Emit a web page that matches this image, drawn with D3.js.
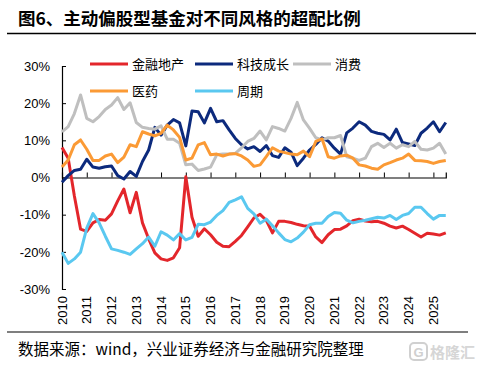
<!DOCTYPE html>
<html>
<head>
<meta charset="utf-8">
<script src="https://cdn.jsdelivr.net/npm/d3@7"></script>
<style>
  body { margin: 0; background: #fff; }
  text { font-family: "Liberation Sans", "Noto Sans CJK SC", sans-serif; }
</style>
</head>
<body>
<div id="chart"></div>
<script>
// quarterly, 2010Q1 .. 2025Q3 (%)
var years = ["2010","2011","2012","2013","2014","2015","2016","2017","2018","2019","2020","2021","2022","2023","2024","2025"];
var seriesNames = ["金融地产", "科技成长", "消费", "医药", "周期"];

var finance = [8.1, 5.2, -5.0, -13.9, -14.5, -12.2, -11.3, -11.5, -9.8, -6.3, -3.1, -9.5, -4.0, -12.2, -16.5, -20.3,
  -21.9, -22.3, -21.6, -18.9, 0.2, -10.7, -15.8, -13.8, -15.4, -17.4, -18.5, -18.6, -17.2, -15.6, -13.3, -10.9,
  -9.9, -11.5, -14.9, -11.8, -11.8, -12.1, -12.6, -13.0, -13.1, -16.0, -17.5, -15.4, -14.0, -13.9, -13.0, -11.6,
  -11.2, -11.7, -11.9, -11.8, -12.3, -13.1, -13.6, -13.1, -14.0, -15.0, -16.0, -15.0, -15.2, -15.5, -14.9];
var tech = [-1.3, 0.5, 1.9, 2.2, 4.9, 2.8, 2.5, 2.9, 3.1, 0.5, -0.4, 1.6, 0.3, 4.3, 7.4, 13.5,
  11.4, 14.1, 15.6, 14.7, 8.5, 17.9, 17.7, 14.7, 18.6, 15.0, 15.3, 12.8, 10.5, 8.8, 7.7, 8.3,
  7.0, 8.6, 5.9, 5.4, 8.0, 6.8, 3.2, 5.2, 7.4, 8.9, 10.7, 9.8, 7.9, 6.3, 12.0, 13.3,
  15.0, 14.1, 12.4, 11.9, 11.6, 10.1, 13.0, 9.4, 9.0, 8.6, 11.9, 13.3, 15.0, 12.3, 14.8];
var consumer = [12.3, 13.7, 17.2, 22.2, 15.9, 15.0, 16.4, 18.3, 19.5, 21.5, 18.3, 20.1, 14.8, 13.5, 13.2, 13.0,
  13.9, 10.3, 10.3, 9.2, 3.4, 3.6, 1.9, 2.3, 2.8, 6.1, 6.3, 6.3, 6.5, 8.0, 9.7, 10.5,
  12.5, 10.1, 13.7, 13.2, 12.5, 15.9, 20.2, 15.5, 13.2, 10.7, 10.1, 10.7, 10.7, 11.3, 5.6, 5.2,
  4.6, 5.2, 8.3, 9.2, 8.1, 9.2, 7.9, 8.8, 8.3, 9.7, 7.6, 7.4, 7.9, 9.2, 6.3];
var pharma = [2.8, 4.7, 8.8, 10.1, 7.6, 4.6, 4.6, 5.8, 6.3, 4.0, 5.5, 8.8, 8.3, 12.3, 11.7, 11.2,
  11.9, 14.1, 12.8, 10.8, 4.7, 5.2, 8.8, 9.4, 6.1, 6.3, 5.8, 6.3, 6.4, 5.8, 4.7, 3.0,
  3.4, 5.6, 8.0, 7.1, 6.7, 6.3, 6.1, 7.1, 5.6, 9.7, 10.4, 5.6, 5.2, 5.8, 6.0, 5.2,
  3.4, 3.1, 2.5, 2.2, 3.4, 4.0, 4.7, 5.2, 6.3, 4.6, 4.5, 4.3, 3.8, 4.3, 4.6];
var cyclical = [-20.1, -23.1, -21.9, -20.1, -13.6, -9.7, -12.2, -15.8, -19.2, -19.6, -20.1, -20.7, -19.2, -17.8, -16.0, -18.5,
  -14.6, -15.5, -16.8, -15.1, -16.8, -16.1, -12.6, -12.7, -12.0, -10.2, -8.9, -6.7, -6.0, -5.2, -8.3, -9.8,
  -12.3, -11.2, -13.0, -14.9, -16.7, -17.3, -16.3, -14.7, -12.7, -12.3, -12.3, -10.5, -9.4, -9.6, -11.5, -12.2,
  -11.8, -11.5, -11.1, -10.7, -10.9, -10.2, -11.3, -10.2, -9.7, -8.0, -8.0, -9.7, -11.2, -10.2, -10.2];
var yTicks = [-30, -20, -10, 0, 10, 20, 30];

var colors = ["#e3262b", "#0c2a7d", "#bfbfbf", "#fb9a35", "#5ac8f0"];
var allSeries = [finance, tech, consumer, pharma, cyclical];

var W = 483, H = 373;
var svg = d3.select("#chart").append("svg")
  .attr("width", W)
  .attr("height", H);

// title
svg.append("text")
  .attr("x", 18)
  .attr("y", 25)
  .style("font-family", "'Noto Sans CJK SC', sans-serif")
  .style("font-size", "17.5px")
  .style("font-weight", "bold")
  .text("图6、主动偏股型基金对不同风格的超配比例");

svg.append("line")
  .attr("x1", 7).attr("x2", 476)
  .attr("y1", 33.5).attr("y2", 33.5)
  .attr("stroke", "#000").attr("stroke-width", 1.3);

// scales
var x = d3.scaleLinear().domain([0, finance.length - 1]).range([62, 62 + (finance.length - 1) * 6.19]);
var y = d3.scaleLinear().domain([-30, 30]).range([289, 66]);

// y axis
var yAxis = svg.append("g")
  .attr("transform", "translate(62,0)")
  .call(d3.axisLeft(y).tickValues(yTicks).tickSize(-4).tickPadding(12)
    .tickFormat(function (d) { return d + "%"; }));
yAxis.select(".domain").attr("stroke", "#000").attr("stroke-width", 1.2);
yAxis.selectAll(".tick line").attr("stroke", "#000");
yAxis.selectAll(".tick text")
  .style("font-size", "13px")
  .attr("fill", "#000");

// x axis on the zero line
var tickIdx = years.map(function (d, i) { return i * 4; });
var xAxis = svg.append("g")
  .attr("transform", "translate(0," + y(0) + ")")
  .call(d3.axisBottom(x).tickValues(tickIdx).tickSize(-5).tickFormat(""));
xAxis.select(".domain").attr("stroke", "#000").attr("stroke-width", 1.2);
xAxis.selectAll(".tick line").attr("stroke", "#000");

// year labels under the plot
svg.append("g")
  .selectAll("text")
  .data(years)
  .enter()
  .append("text")
  .attr("transform", function (d, i) { return "translate(" + (x(i * 4) + 4.5) + ",296) rotate(-90)"; })
  .attr("text-anchor", "end")
  .style("font-size", "13px")
  .text(function (d) { return d; });

// lines
var line = d3.line()
  .x(function (d, i) { return x(i); })
  .y(function (d) { return y(d); });

svg.append("g")
  .selectAll("path")
  .data(allSeries)
  .enter()
  .append("path")
  .attr("d", function (d) { return line(d); })
  .attr("fill", "none")
  .attr("stroke", function (d, i) { return colors[i]; })
  .attr("stroke-width", 3)
  .attr("stroke-linejoin", "round");

// legend
var legendPos = [[90, 64], [195, 64], [293, 64], [90, 91], [195, 91]];
var lg = svg.append("g")
  .selectAll("g")
  .data(seriesNames)
  .enter()
  .append("g")
  .attr("transform", function (d, i) { return "translate(" + legendPos[i][0] + "," + legendPos[i][1] + ")"; });
lg.append("line")
  .attr("x1", 0).attr("x2", 38)
  .attr("stroke", function (d, i) { return colors[i]; })
  .attr("stroke-width", 3);
lg.append("text")
  .attr("x", 42)
  .attr("dy", "0.36em")
  .style("font-family", "'Noto Sans CJK SC', sans-serif")
  .style("font-size", "13px")
  .text(function (d) { return d; });

// source
svg.append("line")
  .attr("x1", 7).attr("x2", 468)
  .attr("y1", 332).attr("y2", 332)
  .attr("stroke", "#000").attr("stroke-width", 1.2);

svg.append("text")
  .attr("x", 18)
  .attr("y", 355)
  .style("font-family", "'Noto Sans CJK SC', sans-serif")
  .style("font-size", "15.5px")
  .text("数据来源：wind，兴业证券经济与金融研究院整理");

// watermark
svg.append("rect")
  .attr("x", 410).attr("y", 343)
  .attr("width", 17).attr("height", 17)
  .attr("rx", 4)
  .attr("fill", "none")
  .attr("stroke", "#d0d0d0")
  .attr("stroke-width", 2);
svg.append("text")
  .attr("x", 418.5).attr("y", 357)
  .attr("text-anchor", "middle")
  .style("font-size", "13px")
  .style("font-weight", "bold")
  .attr("fill", "#d0d0d0")
  .text("G");
svg.append("text")
  .attr("x", 430).attr("y", 358)
  .style("font-family", "'Noto Sans CJK SC', sans-serif")
  .style("font-size", "15px")
  .style("font-weight", "bold")
  .attr("fill", "#d6d6d6")
  .text("格隆汇");
</script>
</body>
</html>
